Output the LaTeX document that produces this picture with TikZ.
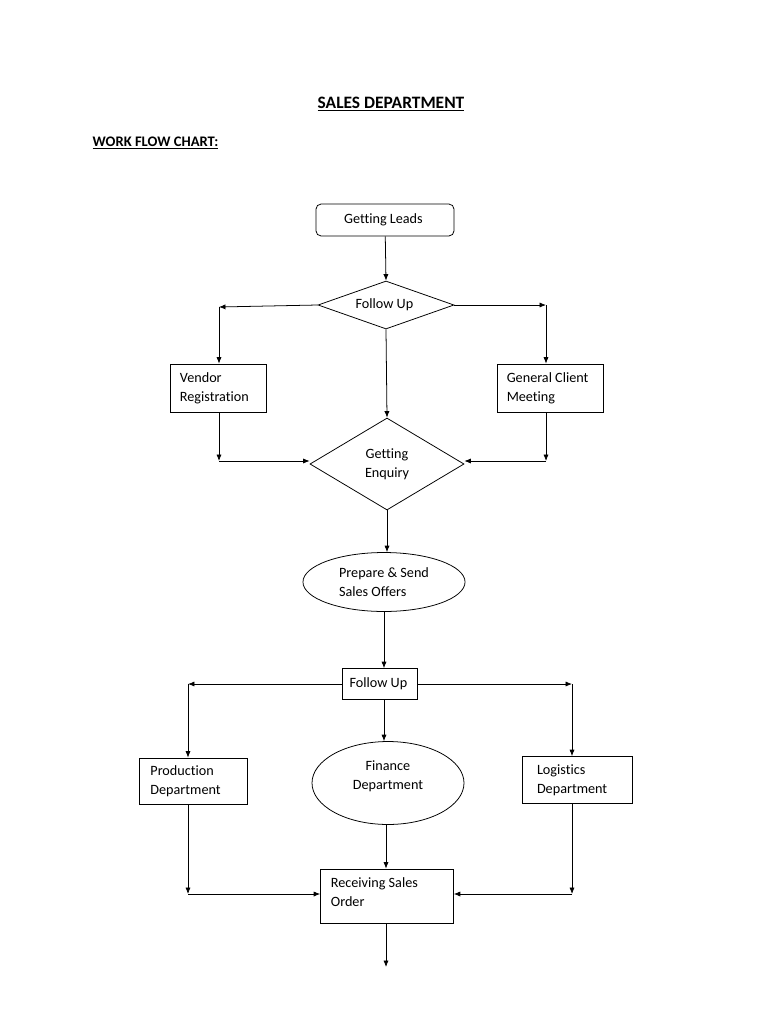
\documentclass[tikz,border=0pt]{standalone}
\usepackage{fontspec}
\setmainfont[Ligatures = NoCommon]{Carlito}
\usetikzlibrary{positioning, shapes.geometric, arrows.meta}

\begin{document}
\begin{tikzpicture}[x = 0.775pt, y = -0.775pt, line width = 0.6pt,
    every node/.style = { font = \fontsize{11}{14.7}\selectfont },
    box/.style = { draw, rectangle, align = flush left, inner sep = 0pt },
    decide/.style = { draw, diamond, align = center, inner sep = 0pt },
    oval/.style = { draw, ellipse, align = center, inner sep = 0pt },
    flow/.style = { -{Latex[length = 5pt, width = 4pt]} }]
  \useasboundingbox (0,0) rectangle (768,1024);

  % headings
  \node [font = \fontsize{13.5}{16}\selectfont\bfseries] (title) at (391,104) { \underline{SALES DEPARTMENT} };
  \node [font = \fontsize{11.3}{14}\selectfont\bfseries, anchor = west] (sub) at (88,143) { \underline{WORK FLOW CHART:} };

  % upper part
  \node [box, rounded corners = 4pt, align = center, minimum width = 107pt, minimum height = 24.8pt] (leads) at (385,220) { Getting Leads };
  \node [decide, aspect = 2.8, minimum width = 105.4pt, minimum height = 37.2pt] (follow) at (386,305) { Follow Up };
  \node [box, minimum width = 74.4pt, minimum height = 37.2pt, text width = 59pt] (vendor) at (218,388) { Vendor \\ Registration };
  \node [box, minimum width = 82.2pt, minimum height = 37.2pt, text width = 67pt] (client) at (550,388) { General Client \\ Meeting };
  \node [decide, aspect = 1.67, minimum width = 119.4pt, minimum height = 71.3pt] (enquiry) at (387,464) { Getting \\ Enquiry };
  \node [oval, align = flush left, minimum width = 125.6pt, minimum height = 45.7pt] (offers) at (384,582) { Prepare \& Send \\ Sales Offers };

  % lower part
  \node [box, align = center, minimum width = 58pt, minimum height = 24pt] (follow2) at (380,684) { Follow Up };
  \node [box, minimum width = 83.7pt, minimum height = 35.7pt, text width = 66pt] (production) at (193,781) { Production \\ Department };
  \node [box, minimum width = 85.3pt, minimum height = 36.4pt, text width = 62pt] (logistics) at (577,780) { Logistics \\ Department };
  \node [oval, minimum width = 117.8pt, minimum height = 64.3pt] (finance) at (388,783) { Finance \\ Department \\[-3pt] };
  \node [box, minimum width = 103pt, minimum height = 41.9pt, text width = 87pt] (receiving) at (387,896) { Receiving Sales \\ Order \\[-8.7pt] \mbox{} };

  % corners
  \coordinate (vl) at (219,307);
  \coordinate (cr) at (546,305);
  \coordinate (vb) at (219,461);
  \coordinate (cb) at (546,461);
  \coordinate (pl) at (188,684);
  \coordinate (lr) at (572,684);
  \coordinate (pb) at (188,894);
  \coordinate (lb) at (572,894);
  \coordinate (out) at (386,967);

  % connectors
  \draw [flow] (leads) -- (follow.north);
  \draw [flow] (follow.west) -- (vl);
  \draw [flow] (vl) -- (vendor.north -| vl);
  \draw [flow] (follow.east) -- (cr);
  \draw [flow] (cr) -- (client.north -| cr);
  \draw [flow] (follow.south) -- (enquiry.north);
  \draw [flow] (vendor.south -| vb) -- (vb);
  \draw [flow] (vb) -- (enquiry.west |- vb);
  \draw [flow] (client.south -| cb) -- (cb);
  \draw [flow] (cb) -- (enquiry.east |- cb);
  \draw [flow] (enquiry.south) -- (offers.north -| enquiry.south);
  \draw [flow] (offers.south) -- (follow2.north -| offers.south);
  \draw [flow] (follow2.west) -- (pl);
  \draw [flow] (pl) -- (production.north -| pl);
  \draw [flow] (follow2.east) -- (lr);
  \draw [flow] (lr) -- (logistics.north -| lr);
  \draw [flow] (follow2.south -| offers.south) -- (finance.north -| offers.south);
  \draw [flow] (finance.south -| out) -- (receiving.north -| out);
  \draw [flow] (production.south -| pb) -- (pb);
  \draw [flow] (pb) -- (receiving.west |- pb);
  \draw [flow] (logistics.south -| lb) -- (lb);
  \draw [flow] (lb) -- (receiving.east |- lb);
  \draw [flow] (receiving.south -| out) -- (out);
\end{tikzpicture}
\end{document}
